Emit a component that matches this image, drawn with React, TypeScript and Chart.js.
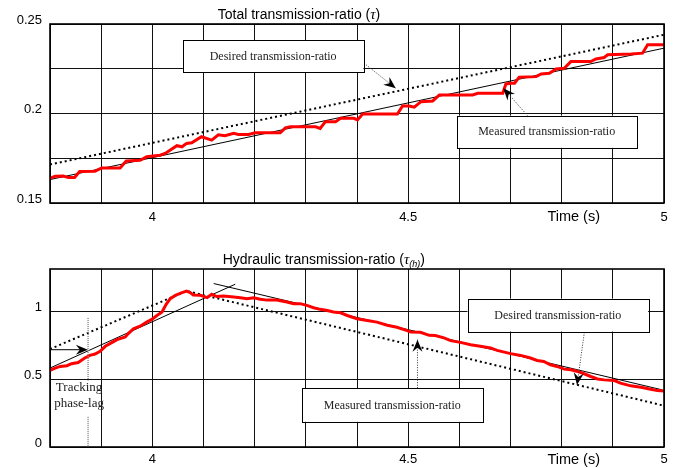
import React, { useEffect, useRef } from 'react';
import { Chart, registerables } from 'chart.js';
Chart.register(...registerables);

// ---------- data ----------
const xLabelValues = [4, 4.5, 5];
const topYLabelValues = [0.15, 0.2, 0.25];
const botYLabelValues = [0, 0.5, 1];

const topTime = [3.800,3.810,3.826,3.836,3.848,3.858,3.888,3.901,3.937,3.949,3.976,3.989,4.015,4.025,4.048,4.058,4.067,4.077,4.096,4.116,4.129,4.142,4.159,4.168,4.188,4.201,4.250,4.260,4.270,4.319,4.328,4.338,4.358,4.368,4.394,4.401,4.411,4.479,4.489,4.502,4.512,4.525,4.548,4.561,4.626,4.636,4.685,4.691,4.701,4.708,4.717,4.750,4.760,4.776,4.789,4.805,4.818,4.857,4.867,4.883,4.890,4.936,4.958,4.968,5.000];
const topMeasured = [0.1637,0.1650,0.1651,0.1642,0.1642,0.1676,0.1678,0.1696,0.1696,0.1735,0.1739,0.1758,0.1767,0.1777,0.1820,0.1814,0.1833,0.1836,0.1870,0.1851,0.1881,0.1876,0.1889,0.1883,0.1883,0.1892,0.1892,0.1920,0.1926,0.1926,0.1917,0.1954,0.1954,0.1973,0.1973,0.1964,0.1997,0.1997,0.2042,0.2042,0.2035,0.2066,0.2070,0.2104,0.2104,0.2113,0.2113,0.2165,0.2169,0.2169,0.2203,0.2206,0.2221,0.2225,0.2249,0.2253,0.2290,0.2290,0.2305,0.2313,0.2328,0.2332,0.2337,0.2384,0.2384];
const topDesiredTime = [3.8, 5];
const topDesired = [0.1715, 0.244];
const topReferenceTime = [3.8, 5];
const topReference = [0.1631, 0.2365];

const botTime = [3.800,3.810,3.820,3.833,3.842,3.855,3.868,3.878,3.888,3.898,3.908,3.917,3.931,3.947,3.953,3.963,3.976,3.989,3.999,4.009,4.019,4.027,4.035,4.045,4.058,4.067,4.074,4.080,4.094,4.107,4.116,4.126,4.139,4.159,4.172,4.185,4.198,4.211,4.224,4.243,4.263,4.276,4.289,4.302,4.315,4.328,4.342,4.354,4.368,4.381,4.400,4.420,4.439,4.459,4.478,4.498,4.505,4.524,4.541,4.553,4.570,4.583,4.602,4.622,4.641,4.661,4.674,4.700,4.720,4.739,4.752,4.765,4.778,4.791,4.805,4.818,4.831,4.844,4.857,4.870,4.883,4.903,4.915,4.935,4.955,4.974,4.987,5.000];
const botMeasured = [0.563,0.581,0.593,0.598,0.613,0.622,0.655,0.674,0.684,0.704,0.741,0.761,0.790,0.810,0.835,0.870,0.889,0.919,0.939,0.968,0.993,1.050,1.092,1.116,1.136,1.148,1.136,1.119,1.116,1.099,1.124,1.107,1.111,1.104,1.099,1.092,1.099,1.087,1.081,1.081,1.067,1.055,1.055,1.042,1.025,1.013,1.005,0.993,0.988,0.968,0.944,0.931,0.919,0.896,0.881,0.857,0.847,0.844,0.822,0.820,0.803,0.783,0.770,0.753,0.741,0.729,0.711,0.687,0.674,0.655,0.637,0.630,0.605,0.593,0.573,0.568,0.556,0.539,0.519,0.501,0.494,0.489,0.470,0.450,0.440,0.425,0.415,0.413];
const botDesiredTime = [3.8, 4.067, 5];
const botDesired = [0.721, 1.148, 0.304];
const botRiseTime = [3.8, 4.162];
const botRise = [0.581, 1.198];
const botFallTime = [4.12, 4.997];
const botFall = [1.203, 0.42];

// ---------- annotation layout (data coordinates) ----------
const topOverlay = {
  title: { cx: 299, cy: 15, parts: [
    { t: 'Total transmission-ratio (', f: '14px "Liberation Sans"', dy: 0 },
    { t: '\u03C4', f: 'italic 15px "Liberation Serif"', dy: 0 },
    { t: ')', f: '14px "Liberation Sans"', dy: 0 },
  ] },
  time: { cx: 573.7, cy: 217 },
  boxes: [
    { t0: 4.0597, t1: 4.4125, v0: 0.2408, v1: 0.2229, text: 'Desired transmission-ratio' },
    { t0: 4.5945, t1: 4.9468, v0: 0.1988, v1: 0.1808, text: 'Measured transmission-ratio' },
  ],
  leaders: [
    { from: [4.4137, 0.2281], to: [4.4757, 0.2141] },
    { from: [4.7335, 0.1988], to: [4.6859, 0.2141] },
  ],
  solidArrows: [] as any[],
  grayLines: [] as any[],
  texts: [] as any[],
};

const botOverlay = {
  title: { cx: 323.8, cy: 26, parts: [
    { t: 'Hydraulic transmission-ratio (', f: '14px "Liberation Sans"', dy: 0 },
    { t: '\u03C4', f: 'italic 15px "Liberation Serif"', dy: 0 },
    { t: '(h)', f: 'italic 9px "Liberation Sans"', dy: 4 },
    { t: ')', f: '14px "Liberation Sans"', dy: 0 },
  ] },
  time: { cx: 573.7, cy: 226 },
  boxes: [
    { t0: 4.616, t1: 4.969, v0: 1.092, v1: 0.850, text: 'Desired transmission-ratio' },
    { t0: 4.2926, t1: 4.6454, v0: 0.433, v1: 0.185, text: 'Measured transmission-ratio' },
  ],
  leaders: [
    { from: [4.8444, 0.844], to: [4.830, 0.457] },
    { from: [4.5182, 0.433], to: [4.5182, 0.790] },
  ],
  solidArrows: [{ from: [3.8, 0.716], to: [3.874, 0.716] }],
  grayLines: [
    { from: [3.8744, 0.95], to: [3.8744, 0.49] },
    { from: [3.8744, 0.222], to: [3.8744, 0] },
  ],
  texts: [
    { t: 3.8568, v: 0.437, text: 'Tracking' },
    { t: 3.8568, v: 0.321, text: 'phase-lag' },
  ],
};

// ---------- helpers ----------
const pts = (ts: number[], vs: number[]) => ts.map((t, i) => ({ x: t, y: vs[i] }));
const near = (v: number, arr: number[]) => arr.some((a) => Math.abs(a - v) < 1e-6);
const fmt = (v: number) => String(Number(v.toFixed(3)));

function arrowHead(ctx: CanvasRenderingContext2D, fx: number, fy: number, tx: number, ty: number) {
  const ang = Math.atan2(ty - fy, tx - fx);
  ctx.save();
  ctx.translate(tx, ty);
  ctx.rotate(ang);
  ctx.beginPath();
  ctx.moveTo(0, 0);
  ctx.lineTo(-12, -5);
  ctx.lineTo(-8, 0);
  ctx.lineTo(-12, 5);
  ctx.closePath();
  ctx.fillStyle = '#000';
  ctx.fill();
  ctx.restore();
}

function makeOverlay(o: any) {
  return {
    id: 'overlay',
    afterDraw(chart: any) {
      const { ctx, chartArea: a, scales } = chart;
      const X = (t: number) => scales.x.getPixelForValue(t);
      const Y = (v: number) => scales.y.getPixelForValue(v);
      ctx.save();
      // frame
      ctx.strokeStyle = '#000';
      ctx.lineWidth = 1.6;
      ctx.strokeRect(a.left, a.top, a.right - a.left, a.bottom - a.top);

      // title
      let total = 0;
      for (const p of o.title.parts) { ctx.font = p.f; total += ctx.measureText(p.t).width; }
      let x = o.title.cx - total / 2;
      ctx.fillStyle = '#000';
      ctx.textBaseline = 'middle';
      ctx.textAlign = 'left';
      for (const p of o.title.parts) {
        ctx.font = p.f;
        ctx.fillText(p.t, x, o.title.cy + p.dy);
        x += ctx.measureText(p.t).width;
      }
      // Time (s)
      ctx.font = '14.5px "Liberation Sans"';
      ctx.textAlign = 'center';
      ctx.fillText('Time (s)', o.time.cx, o.time.cy);

      // gray dotted vertical lines
      for (const g of o.grayLines) {
        ctx.save();
        ctx.strokeStyle = '#8a8a8a';
        ctx.lineWidth = 1.5;
        ctx.setLineDash([1, 1]);
        ctx.beginPath();
        ctx.moveTo(X(g.from[0]), Y(g.from[1]));
        ctx.lineTo(X(g.to[0]), Y(g.to[1]));
        ctx.stroke();
        ctx.restore();
      }
      // solid arrows
      for (const s of o.solidArrows) {
        const fx = X(s.from[0]), fy = Y(s.from[1]), tx = X(s.to[0]), ty = Y(s.to[1]);
        ctx.strokeStyle = '#000';
        ctx.lineWidth = 1;
        ctx.beginPath();
        ctx.moveTo(fx, fy);
        ctx.lineTo(tx - 6, ty);
        ctx.stroke();
        arrowHead(ctx, fx, fy, tx, ty);
      }
      // leaders
      for (const l of o.leaders) {
        const fx = X(l.from[0]), fy = Y(l.from[1]), tx = X(l.to[0]), ty = Y(l.to[1]);
        ctx.save();
        ctx.strokeStyle = '#333';
        ctx.lineWidth = 1;
        ctx.setLineDash([1, 1.5]);
        ctx.beginPath();
        ctx.moveTo(fx, fy);
        ctx.lineTo(tx, ty);
        ctx.stroke();
        ctx.restore();
        arrowHead(ctx, fx, fy, tx, ty);
      }
      // boxes
      for (const b of o.boxes) {
        const x0 = X(b.t0), x1 = X(b.t1), y0 = Y(b.v0), y1 = Y(b.v1);
        ctx.fillStyle = '#fff';
        ctx.fillRect(x0, y0, x1 - x0, y1 - y0);
        ctx.strokeStyle = '#000';
        ctx.lineWidth = 1;
        ctx.strokeRect(Math.round(x0) + 0.5, Math.round(y0) + 0.5, Math.round(x1 - x0), Math.round(y1 - y0));
        ctx.fillStyle = '#222';
        ctx.font = '12px "Liberation Serif"';
        ctx.textAlign = 'center';
        ctx.textBaseline = 'middle';
        ctx.fillText(b.text, (x0 + x1) / 2, (y0 + y1) / 2 + 0.5);
      }
      // free texts
      for (const t of o.texts) {
        ctx.fillStyle = '#222';
        ctx.font = '13px "Liberation Serif"';
        ctx.textAlign = 'center';
        ctx.textBaseline = 'middle';
        ctx.fillText(t.text, X(t.t), Y(t.v));
      }
      ctx.restore();
    },
  };
}

function buildConfig(kind: 'top' | 'bot') {
  const isTop = kind === 'top';
  const datasets = isTop
    ? [
        { data: pts(topTime, topMeasured), borderColor: '#ff0000', borderWidth: 3 },
        { data: pts(topDesiredTime, topDesired), borderColor: '#000', borderWidth: 2, borderDash: [2, 3] },
        { data: pts(topReferenceTime, topReference), borderColor: '#000', borderWidth: 1 },
      ]
    : [
        { data: pts(botTime, botMeasured), borderColor: '#ff0000', borderWidth: 3 },
        { data: pts(botDesiredTime, botDesired), borderColor: '#000', borderWidth: 2, borderDash: [2, 3] },
        { data: pts(botRiseTime, botRise), borderColor: '#000', borderWidth: 1 },
        { data: pts(botFallTime, botFall), borderColor: '#000', borderWidth: 1 },
      ];
  const tickFont = { family: '"Liberation Sans", Arial, sans-serif', size: 13 };
  return {
    type: 'line' as const,
    data: {
      datasets: datasets.map((d) => ({ ...d, pointRadius: 0, tension: 0, fill: false })),
    },
    options: {
      animation: false,
      responsive: false,
      events: [],
      layout: { padding: { left: 0, right: 13, top: isTop ? 24 : 35, bottom: 0 } },
      plugins: { legend: { display: false }, tooltip: { enabled: false }, title: { display: false } },
      scales: {
        x: {
          type: 'linear',
          min: 3.8,
          max: 5,
          ticks: {
            stepSize: 0.1,
            autoSkip: false,
            maxRotation: 0,
            padding: isTop ? 7 : 5,
            color: '#000',
            font: tickFont,
            callback: (v: any) => (near(Number(v), xLabelValues) ? fmt(Number(v)) : ''),
          },
          grid: { color: '#111', lineWidth: 1, drawTicks: false },
          border: { display: false },
          afterFit: (s: any) => { s.height = isTop ? 31 : 21; },
        },
        y: {
          type: 'linear',
          min: isTop ? 0.15 : 0,
          max: isTop ? 0.25 : 1.31,
          ticks: {
            stepSize: isTop ? 0.025 : 0.5,
            includeBounds: false,
            autoSkip: false,
            padding: 8,
            labelOffset: -4,
            color: '#000',
            font: tickFont,
            callback: (v: any) =>
              near(Number(v), isTop ? topYLabelValues : botYLabelValues) ? fmt(Number(v)) : '',
          },
          grid: { color: '#111', lineWidth: 1, drawTicks: false },
          border: { display: false },
          afterFit: (s: any) => { s.width = 50; },
        },
      },
    },
    plugins: [makeOverlay(isTop ? topOverlay : botOverlay)],
  };
}

function ChartCanvas({ kind, top }: { kind: 'top' | 'bot'; top: number }) {
  const ref = useRef<HTMLCanvasElement>(null);
  useEffect(() => {
    const c = new Chart(ref.current as HTMLCanvasElement, buildConfig(kind) as any);
    return () => c.destroy();
  }, [kind]);
  return (
    <canvas
      ref={ref}
      width={677}
      height={234}
      style={{ position: 'absolute', left: 0, top, width: 677, height: 234 }}
    />
  );
}

export default function App() {
  return (
    <div style={{ position: 'fixed', left: 0, top: 0, width: 677, height: 468, background: '#fff' }}>
      <ChartCanvas kind="top" top={0} />
      <ChartCanvas kind="bot" top={234} />
    </div>
  );
}
